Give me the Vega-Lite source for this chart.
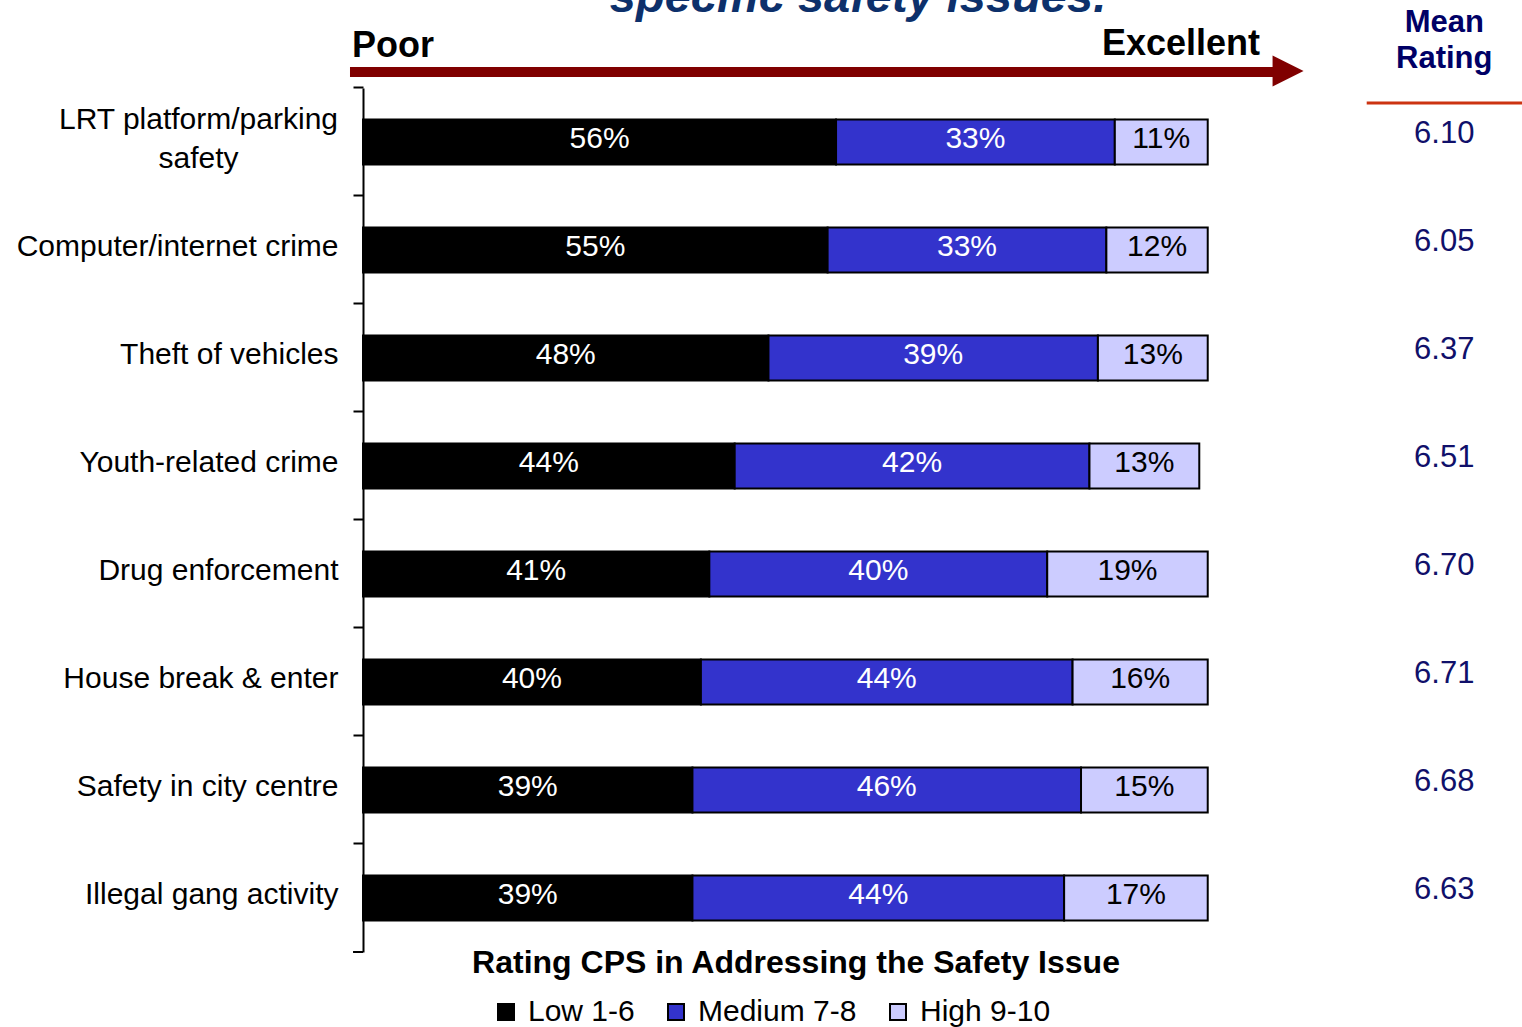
{
  "$schema": "https://vega.github.io/schema/vega-lite/v6.json",
  "width": 865,
  "height": 864,
  "autosize": {"type": "none"},
  "padding": {"left": 363, "top": 88, "right": 294, "bottom": 75},
  "background": "white",
  "config": {"view": {"stroke": null}, "font": "Liberation Sans"},
  "datasets": {
    "bars": [
      {"category": "LRT platform/parking\nsafety", "level": "Low 1-6", "rank": 1, "pct": 0.56},
      {"category": "LRT platform/parking\nsafety", "level": "Medium 7-8", "rank": 2, "pct": 0.33},
      {"category": "LRT platform/parking\nsafety", "level": "High 9-10", "rank": 3, "pct": 0.11},
      {"category": "Computer/internet crime", "level": "Low 1-6", "rank": 1, "pct": 0.55},
      {"category": "Computer/internet crime", "level": "Medium 7-8", "rank": 2, "pct": 0.33},
      {"category": "Computer/internet crime", "level": "High 9-10", "rank": 3, "pct": 0.12},
      {"category": "Theft of vehicles", "level": "Low 1-6", "rank": 1, "pct": 0.48},
      {"category": "Theft of vehicles", "level": "Medium 7-8", "rank": 2, "pct": 0.39},
      {"category": "Theft of vehicles", "level": "High 9-10", "rank": 3, "pct": 0.13},
      {"category": "Youth-related crime", "level": "Low 1-6", "rank": 1, "pct": 0.44},
      {"category": "Youth-related crime", "level": "Medium 7-8", "rank": 2, "pct": 0.42},
      {"category": "Youth-related crime", "level": "High 9-10", "rank": 3, "pct": 0.13},
      {"category": "Drug enforcement", "level": "Low 1-6", "rank": 1, "pct": 0.41},
      {"category": "Drug enforcement", "level": "Medium 7-8", "rank": 2, "pct": 0.40},
      {"category": "Drug enforcement", "level": "High 9-10", "rank": 3, "pct": 0.19},
      {"category": "House break & enter", "level": "Low 1-6", "rank": 1, "pct": 0.40},
      {"category": "House break & enter", "level": "Medium 7-8", "rank": 2, "pct": 0.44},
      {"category": "House break & enter", "level": "High 9-10", "rank": 3, "pct": 0.16},
      {"category": "Safety in city centre", "level": "Low 1-6", "rank": 1, "pct": 0.39},
      {"category": "Safety in city centre", "level": "Medium 7-8", "rank": 2, "pct": 0.46},
      {"category": "Safety in city centre", "level": "High 9-10", "rank": 3, "pct": 0.15},
      {"category": "Illegal gang activity", "level": "Low 1-6", "rank": 1, "pct": 0.39},
      {"category": "Illegal gang activity", "level": "Medium 7-8", "rank": 2, "pct": 0.44},
      {"category": "Illegal gang activity", "level": "High 9-10", "rank": 3, "pct": 0.17}
    ],
    "means": [
      {"category": "LRT platform/parking\nsafety", "mean": 6.10},
      {"category": "Computer/internet crime", "mean": 6.05},
      {"category": "Theft of vehicles", "mean": 6.37},
      {"category": "Youth-related crime", "mean": 6.51},
      {"category": "Drug enforcement", "mean": 6.70},
      {"category": "House break & enter", "mean": 6.71},
      {"category": "Safety in city centre", "mean": 6.68},
      {"category": "Illegal gang activity", "mean": 6.63}
    ]
  },
  "resolve": {"scale": {"color": "independent"}},
  "layer": [
    {
      "data": {"name": "bars"},
      "mark": {"type": "bar", "stroke": "black", "strokeWidth": 2},
      "encoding": {
        "y": {
          "field": "category", "type": "nominal",
          "scale": {
            "domain": ["LRT platform/parking\nsafety", "Computer/internet crime", "Theft of vehicles", "Youth-related crime", "Drug enforcement", "House break & enter", "Safety in city centre", "Illegal gang activity"],
            "paddingInner": 0.583, "paddingOuter": 0.2917
          },
          "axis": {
            "title": null, "labelExpr": "split(datum.label, '\\n')",
            "labelFont": "Liberation Sans", "labelFontSize": 30, "labelColor": "black",
            "labelLimit": 0, "labelLineHeight": 39,
            "labelAlign": {"condition": {"test": "indexof(datum.label, '\\n') >= 0", "value": "center"}, "value": "right"},
            "labelPadding": {"condition": {"test": "indexof(datum.label, '\\n') >= 0", "value": 155}, "value": 15},
            "labelOffset": {"condition": {"test": "indexof(datum.label, '\\n') >= 0", "value": -22}, "value": -3},
            "domainColor": "black", "domainWidth": 2,
            "tickColor": "black", "tickWidth": 2, "tickSize": 10, "bandPosition": -0.7,
            "grid": false
          }
        },
        "x": {
          "field": "pct", "type": "quantitative", "stack": "zero",
          "scale": {"domain": [0, 1.024], "nice": false, "zero": true},
          "axis": {
            "title": "Rating CPS in Addressing the Safety Issue",
            "labels": false, "ticks": false, "domain": false, "grid": false,
            "titleFont": "Liberation Sans", "titleFontSize": 32, "titleFontWeight": "bold",
            "titleColor": "black", "titleBaseline": "alphabetic", "titlePadding": 20
          }
        },
        "order": {"field": "rank", "type": "quantitative"},
        "color": {
          "field": "level", "type": "nominal",
          "sort": ["Low 1-6", "Medium 7-8", "High 9-10"],
          "scale": {"domain": ["Low 1-6", "Medium 7-8", "High 9-10"], "range": ["#000000", "#3333CC", "#CCCCFF"]},
          "legend": {
            "orient": "none", "legendX": 128, "legendY": 909, "direction": "horizontal",
            "title": null, "symbolType": "square", "symbolSize": 256,
            "symbolStrokeColor": "black", "symbolStrokeWidth": 2, "symbolOpacity": 1,
            "labelFont": "Liberation Sans", "labelFontSize": 30, "labelColor": "black",
            "columnPadding": 26, "labelOffset": 7, "padding": 0, "labelLimit": 0
          }
        }
      }
    },
    {
      "data": {"name": "bars"},
      "mark": {"type": "text", "fontSize": 30, "baseline": "middle", "dy": -3, "font": "Liberation Sans"},
      "encoding": {
        "y": {"field": "category", "type": "nominal"},
        "x": {"field": "pct", "type": "quantitative", "stack": "zero", "bandPosition": 0.5},
        "order": {"field": "rank", "type": "quantitative"},
        "text": {"field": "pct", "type": "quantitative", "format": ".0%"},
        "color": {
          "field": "level", "type": "nominal",
          "sort": ["Low 1-6", "Medium 7-8", "High 9-10"],
          "scale": {"domain": ["Low 1-6", "Medium 7-8", "High 9-10"], "range": ["#FFFFFF", "#FFFFFF", "#000000"]},
          "legend": null
        }
      }
    },
    {
      "data": {"name": "means"},
      "mark": {"type": "text", "fontSize": 31, "baseline": "middle", "align": "center", "yOffset": -8, "color": "#10106A", "font": "Liberation Sans"},
      "encoding": {
        "y": {"field": "category", "type": "nominal"},
        "x": {"datum": 1.28},
        "text": {"field": "mean", "type": "quantitative", "format": ".2f"}
      }
    },
    {
      "data": {"values": [{}]},
      "mark": {"type": "rule", "color": "black", "strokeWidth": 2, "yOffset": 54},
      "encoding": {
        "x": {"datum": -0.0118},
        "x2": {"datum": 0},
        "y": {"datum": "Illegal gang activity"}
      }
    },
    {
      "data": {"values": [{}]},
      "mark": {"type": "rule", "color": "#800000", "strokeWidth": 10, "strokeCap": "butt", "yOffset": -70},
      "encoding": {
        "x": {"datum": -0.0154},
        "x2": {"datum": 1.0797},
        "y": {"datum": "LRT platform/parking\nsafety"}
      }
    },
    {
      "data": {"values": [{}]},
      "mark": {"type": "point", "shape": "M-1,-1L1,0L-1,1Z", "size": 961, "filled": true, "color": "#800000", "opacity": 1, "strokeWidth": 0, "yOffset": -71},
      "encoding": {
        "x": {"datum": 1.0951},
        "y": {"datum": "LRT platform/parking\nsafety"}
      }
    },
    {
      "data": {"values": [{}]},
      "mark": {"type": "text", "text": "Poor", "fontSize": 36, "fontWeight": "bold", "align": "left", "baseline": "alphabetic", "color": "black", "yOffset": -85, "font": "Liberation Sans"},
      "encoding": {
        "x": {"datum": -0.013},
        "y": {"datum": "LRT platform/parking\nsafety"}
      }
    },
    {
      "data": {"values": [{}]},
      "mark": {"type": "text", "text": "Excellent", "fontSize": 36, "fontWeight": "bold", "align": "right", "baseline": "alphabetic", "color": "black", "yOffset": -87, "font": "Liberation Sans"},
      "encoding": {
        "x": {"datum": 1.0619},
        "y": {"datum": "LRT platform/parking\nsafety"}
      }
    },
    {
      "data": {"values": [{}]},
      "mark": {"type": "text", "text": ["Mean", "Rating"], "lineHeight": 36, "fontSize": 31, "fontWeight": "bold", "align": "center", "baseline": "alphabetic", "color": "#000066", "yOffset": -110, "font": "Liberation Sans"},
      "encoding": {
        "x": {"datum": 1.28},
        "y": {"datum": "LRT platform/parking\nsafety"}
      }
    },
    {
      "data": {"values": [{}]},
      "mark": {"type": "rule", "color": "#CC3311", "strokeWidth": 3, "yOffset": -39},
      "encoding": {
        "x": {"datum": 1.1882},
        "x2": {"datum": 1.3722},
        "y": {"datum": "LRT platform/parking\nsafety"}
      }
    },
    {
      "data": {"values": [{}]},
      "mark": {"type": "text", "text": "specific safety issues.", "fontSize": 47, "fontWeight": "bold", "fontStyle": "italic", "align": "center", "baseline": "alphabetic", "color": "#0D306B", "yOffset": -130, "font": "Liberation Sans"},
      "encoding": {
        "x": {"datum": 0.586},
        "y": {"datum": "LRT platform/parking\nsafety"}
      }
    }
  ]
}
